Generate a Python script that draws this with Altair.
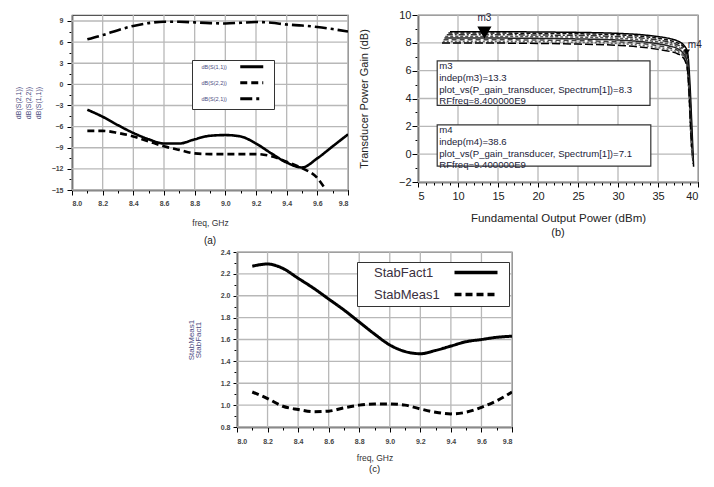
import altair as alt
import pandas as pd

FONT = "Liberation Sans"

# ---------------- Panel (a): S-parameters ----------------
A_FREQ = [8.1, 8.2, 8.3, 8.4, 8.5, 8.6, 8.7, 8.8, 8.9, 9.0, 9.1, 9.2, 9.3, 9.4, 9.5, 9.6, 9.7, 9.8]
A_S21 = [6.4, 7.0, 7.7, 8.3, 8.7, 8.9, 8.9, 8.8, 8.7, 8.65, 8.75, 8.85, 8.75, 8.5, 8.35, 8.15, 7.85, 7.5]
A_S11 = [-3.6, -4.6, -5.8, -6.9, -7.8, -8.4, -8.4, -7.8, -7.3, -7.2, -7.4, -8.4, -9.8, -11.1, -11.8, -10.5, -8.8, -7.1]
A_S22_FREQ = [8.1, 8.2, 8.3, 8.4, 8.5, 8.6, 8.7, 8.8, 8.9, 9.0, 9.1, 9.2, 9.3, 9.4, 9.5, 9.6, 9.65]
A_S22 = [-6.6, -6.6, -6.9, -7.4, -8.1, -8.8, -9.3, -9.8, -9.9, -9.9, -9.9, -9.9, -10.2, -11.0, -11.9, -13.3, -14.8]
A_SERIES = ["dB(S(1,1))", "dB(S(2,2))", "dB(S(2,1))"]
A_XTICKS = [8.0, 8.2, 8.4, 8.6, 8.8, 9.0, 9.2, 9.4, 9.6, 9.8]
A_XMINOR = [8.1, 8.3, 8.5, 8.7, 8.9, 9.1, 9.3, 9.5, 9.7]
A_YTICKS = [-15, -12, -9, -6, -3, 0, 3, 6, 9]
A_YMINOR = [-13.5, -10.5, -7.5, -4.5, -1.5, 1.5, 4.5, 7.5]

# ---------------- Panel (b): transducer power gain ----------------
B_PX = {
    "c1": [9.0, 12, 15, 20, 25, 30, 33, 35, 36.5, 37.5, 38.2, 38.7, 39.0, 39.2, 39.35, 39.45],
    "c2": [8.8, 12, 15, 20, 25, 30, 33, 35, 36.5, 37.5, 38.2, 38.6, 38.9, 39.1, 39.25, 39.4],
    "c3": [8.6, 12, 15, 20, 25, 30, 33, 35, 36.5, 37.5, 38.1, 38.5, 38.85, 39.05, 39.2, 39.35],
    "c4": [8.4, 12, 15, 20, 25, 30, 33, 35, 36.5, 37.5, 38.1, 38.5, 38.8, 39.0, 39.15, 39.3],
    "c5": [8.3, 12, 15, 20, 25, 30, 33, 35, 36.5, 37.5, 38.0, 38.45, 38.8, 39.0, 39.15, 39.3],
    "c6": [8.2, 12, 15, 20, 25, 30, 33, 35, 36.5, 37.5, 38.0, 38.4, 38.75, 38.95, 39.1, 39.25],
    "c7": [8.1, 12, 15, 20, 25, 30, 33, 35, 36.5, 37.5, 38.0, 38.4, 38.7, 38.9, 39.05, 39.2],
    "c8": [8.0, 12, 15, 20, 25, 30, 33, 35, 36.5, 37.5, 38.0, 38.35, 38.7, 38.9, 39.05, 39.2],
}
B_GAIN = {
    "c1": [8.80, 8.80, 8.80, 8.78, 8.75, 8.68, 8.58, 8.45, 8.30, 8.12, 7.85, 7.30, 5.0, 2.5, 0.5, -0.9],
    "c2": [8.70, 8.70, 8.70, 8.68, 8.65, 8.58, 8.47, 8.33, 8.17, 7.98, 7.70, 7.20, 5.2, 2.8, 0.8, -0.7],
    "c3": [8.58, 8.58, 8.58, 8.56, 8.53, 8.45, 8.34, 8.20, 8.03, 7.84, 7.58, 7.12, 5.3, 3.0, 1.0, -0.5],
    "c4": [8.46, 8.46, 8.46, 8.44, 8.41, 8.33, 8.21, 8.06, 7.89, 7.70, 7.45, 7.03, 5.5, 3.3, 1.3, -0.3],
    "c5": [8.34, 8.34, 8.34, 8.32, 8.28, 8.20, 8.08, 7.93, 7.76, 7.57, 7.35, 6.95, 5.6, 3.5, 1.5, -0.1],
    "c6": [8.22, 8.22, 8.22, 8.20, 8.16, 8.07, 7.95, 7.79, 7.62, 7.44, 7.24, 6.90, 5.7, 3.7, 1.7, 0.1],
    "c7": [8.10, 8.10, 8.10, 8.08, 8.04, 7.95, 7.82, 7.66, 7.50, 7.32, 7.12, 6.82, 5.8, 3.9, 1.9, 0.3],
    "c8": [7.98, 7.98, 7.98, 7.96, 7.91, 7.82, 7.69, 7.53, 7.38, 7.20, 7.02, 6.75, 6.0, 4.2, 2.2, 0.5],
}
B_CURVES = ["c1", "c2", "c3", "c4", "c5", "c6", "c7", "c8"]
B_COLORS = ["#000000", "#111111", "#333333", "#555555", "#222222", "#444444", "#666666", "#000000"]
B_DASHES = [[1, 0], [4, 2], [6, 2, 2, 2], [3, 2], [1, 0], [5, 3], [2, 2], [8, 3]]
B_XTICKS = [5, 10, 15, 20, 25, 30, 35, 40]
B_XMINOR = [6, 7, 8, 9, 11, 12, 13, 14, 16, 17, 18, 19, 21, 22, 23, 24, 26, 27, 28, 29,
            31, 32, 33, 34, 36, 37, 38, 39]
B_YTICKS = [-2, 0, 2, 4, 6, 8, 10]
B_YMINOR = [-1, 1, 3, 5, 7, 9]
MK_NAME = ["m3", "m4"]
MK_X = [13.3, 38.6]
MK_Y = [8.3, 7.1]
BOX_LEFT = [7.4, 7.4]
BOX_RIGHT = [34.0, 34.1]
BOX_TOP = [6.7, 2.1]
BOX_BOTTOM = [3.5, -0.86]
BOX_TEXT = [
    "m3\nindep(m3)=13.3\nplot_vs(P_gain_transducer, Spectrum[1])=8.3\nRFfreq=8.400000E9",
    "m4\nindep(m4)=38.6\nplot_vs(P_gain_transducer, Spectrum[1])=7.1\nRFfreq=9.400000E9",
]

# ---------------- Panel (c): stability ----------------
C_FREQ = [8.1, 8.2, 8.3, 8.4, 8.5, 8.6, 8.7, 8.8, 8.9, 9.0, 9.1, 9.2, 9.3, 9.4, 9.5, 9.6, 9.7, 9.8]
C_STABFACT = [2.27, 2.29, 2.25, 2.16, 2.07, 1.97, 1.87, 1.76, 1.65, 1.55, 1.49, 1.47, 1.50, 1.54, 1.58, 1.60, 1.62, 1.63]
C_STABMEAS = [1.12, 1.06, 0.99, 0.96, 0.94, 0.945, 0.975, 1.0, 1.01, 1.01, 1.0, 0.965, 0.935, 0.92, 0.935, 0.98, 1.04, 1.12]
C_SERIES = ["StabFact1", "StabMeas1"]
C_YTICKS = [0.8, 1.0, 1.2, 1.4, 1.6, 1.8, 2.0, 2.2, 2.4]
C_YMINOR = [0.9, 1.1, 1.3, 1.5, 1.7, 1.9, 2.1, 2.3]

LABEL_GRAY = "#444444"
GRID = "#b8b8b8"


def minor_layer(df, xf, yf, xs, ys, xv, yv, tsize):
    return alt.Chart(df).mark_point(opacity=0).encode(
        x=alt.X(xf, scale=xs, axis=alt.Axis(values=xv, labels=False, domain=False, grid=False,
                                           tickSize=tsize, title=None, orient="bottom")),
        y=alt.Y(yf, scale=ys, axis=alt.Axis(values=yv, labels=False, domain=False, grid=False,
                                           tickSize=tsize, title=None, orient="left")),
    )


def grid_layers(xv, yv, xs, ys):
    gx = alt.Chart(pd.DataFrame({"g": xv})).mark_rule(color=GRID, strokeWidth=1.3, opacity=1).encode(
        x=alt.X("g:Q", scale=xs, axis=None))
    gy = alt.Chart(pd.DataFrame({"g": yv})).mark_rule(color=GRID, strokeWidth=1.3, opacity=1).encode(
        y=alt.Y("g:Q", scale=ys, axis=None))
    return [gx, gy]


# ---------- build (a) ----------
rows = []
for f, v in zip(A_FREQ, A_S11):
    rows.append({"freq": f, "val": v, "series": A_SERIES[0]})
for f, v in zip(A_S22_FREQ, A_S22):
    rows.append({"freq": f, "val": v, "series": A_SERIES[1]})
for f, v in zip(A_FREQ, A_S21):
    rows.append({"freq": f, "val": v, "series": A_SERIES[2]})
dfa = pd.DataFrame(rows)

xs_a = alt.Scale(domain=[8.0, 9.8], nice=False, zero=False)
ys_a = alt.Scale(domain=[-15, 9.85], nice=False, zero=False)

lines_a = alt.Chart(dfa).mark_line(color="black", strokeWidth=2.6, interpolate="monotone", clip=True).encode(
    x=alt.X("freq:Q", scale=xs_a, axis=alt.Axis(values=A_XTICKS, format=".1f", title="freq, GHz", grid=False,
                                               labelFontSize=7, labelColor=LABEL_GRAY, labelFontWeight="bold",
                                               titleFontSize=8.5, titleColor="#333", tickSize=5,
                                               labelPadding=4, titlePadding=12, orient="bottom")),
    y=alt.Y("val:Q", scale=ys_a, axis=alt.Axis(values=A_YTICKS, format="d", grid=False,
                                              title=["dB(S(2,1))", "dB(S(2,2))", "dB(S(1,1))"],
                                              titleFontSize=7, titleLineHeight=10, titleColor="#4a4a80",
                                              labelFontSize=7, labelColor=LABEL_GRAY, labelFontWeight="bold",
                                              tickSize=5, labelPadding=4, titlePadding=10, orient="left")),
    strokeDash=alt.StrokeDash("series:N", scale=alt.Scale(domain=A_SERIES, range=[[1, 0], [7, 4], [12, 4, 3, 4]]),
                              legend=alt.Legend(title=None, orient="none", legendX=120, legendY=45,
                                                labelFontSize=5.5, labelColor="#4a4a80", symbolSize=4,
                                                symbolType="M41.5,0H64.5", symbolStrokeWidth=3,
                                                symbolStrokeColor="black", symbolFillColor="transparent",
                                                strokeColor="#333", fillColor="white", padding=4,
                                                rowPadding=3, labelOffset=0)),
    detail="series:N",
)
chart_a = alt.layer(*grid_layers(A_XTICKS, A_YTICKS, xs_a, ys_a), lines_a,
                    minor_layer(dfa, "freq:Q", "val:Q", xs_a, ys_a, A_XMINOR, A_YMINOR, 3)).resolve_axis(
    x="independent", y="independent").properties(
    width=276, height=175,
    title=alt.TitleParams("(a)", orient="bottom", fontSize=10, fontWeight="normal", offset=9, color="#222"))

# ---------- build (b) ----------
rows = []
for c in B_CURVES:
    for x, y in zip(B_PX[c], B_GAIN[c]):
        rows.append({"pout": x, "gain": y, "curve": c})
dfb = pd.DataFrame(rows)
dfbox = pd.DataFrame({"x1": BOX_LEFT, "x2": BOX_RIGHT, "y1": BOX_BOTTOM, "y2": BOX_TOP, "txt": BOX_TEXT})
dfmk = pd.DataFrame({"name": MK_NAME, "x": MK_X, "y": MK_Y})

xs_b = alt.Scale(domain=[5, 40], nice=False, zero=False)
ys_b = alt.Scale(domain=[-2, 10], nice=False, zero=False)

curves_b = alt.Chart(dfb).mark_line(strokeWidth=1.5, interpolate="monotone", clip=True).encode(
    x=alt.X("pout:Q", scale=xs_b, axis=alt.Axis(values=B_XTICKS, format="d", title="Fundamental Output Power (dBm)",
                                               grid=False,
                                               labelFontSize=11, labelColor="#222", titleFontSize=11.5,
                                               titleColor="#222", tickSize=5, labelPadding=3, titlePadding=11,
                                               orient="bottom")),
    y=alt.Y("gain:Q", scale=ys_b, axis=alt.Axis(values=B_YTICKS, format="d", title="Transducer Power Gain (dB)",
                                               grid=False,
                                               labelFontSize=11, labelColor="#222", titleFontSize=11,
                                               titleColor="#222", tickSize=6, labelPadding=1, titlePadding=29,
                                               orient="left")),
    color=alt.Color("curve:N", scale=alt.Scale(domain=B_CURVES, range=B_COLORS), legend=None),
    strokeDash=alt.StrokeDash("curve:N", scale=alt.Scale(domain=B_CURVES, range=B_DASHES), legend=None),
    detail="curve:N",
)
boxes_b = alt.Chart(dfbox).mark_rect(fill="white", stroke="#333", strokeWidth=1.2).encode(
    x=alt.X("x1:Q", scale=xs_b, axis=None), x2="x2:Q",
    y=alt.Y("y1:Q", scale=ys_b, axis=None), y2="y2:Q")
texts_b = alt.Chart(dfbox).mark_text(align="left", baseline="top", lineBreak="\n", fontSize=9.6,
                                     lineHeight=11.8, dx=2, dy=0, color="#222238").encode(
    x=alt.X("x1:Q", scale=xs_b, axis=None), y=alt.Y("y2:Q", scale=ys_b, axis=None), text="txt:N")
m3_tri = alt.Chart(dfmk).transform_filter(alt.datum.name == "m3").mark_point(
    shape="triangle-down", filled=True, size=200, color="black", opacity=1, yOffset=-6).encode(
    x=alt.X("x:Q", scale=xs_b, axis=None), y=alt.Y("y:Q", scale=ys_b, axis=None))
m3_lab = alt.Chart(dfmk).transform_filter(alt.datum.name == "m3").mark_text(
    fontSize=10, dy=-21, color="#222238").encode(
    x=alt.X("x:Q", scale=xs_b, axis=None), y=alt.Y("y:Q", scale=ys_b, axis=None), text="name:N")
m4_tri = alt.Chart(dfmk).transform_filter(alt.datum.name == "m4").mark_point(
    shape="triangle-down", filled=True, size=40, color="black", opacity=1, yOffset=-3).encode(
    x=alt.X("x:Q", scale=xs_b, axis=None), y=alt.Y("y:Q", scale=ys_b, axis=None))
m4_lab = alt.Chart(dfmk).transform_filter(alt.datum.name == "m4").mark_text(
    fontSize=10, dx=1, dy=-10, align="left", color="#222238").encode(
    x=alt.X("x:Q", scale=xs_b, axis=None), y=alt.Y("y:Q", scale=ys_b, axis=None), text="name:N")

chart_b = alt.layer(*grid_layers(B_XTICKS, B_YTICKS, xs_b, ys_b), curves_b, boxes_b, texts_b,
                    m3_tri, m3_lab, m4_tri, m4_lab,
                    minor_layer(dfb, "pout:Q", "gain:Q", xs_b, ys_b, B_XMINOR, B_YMINOR, 3)).resolve_axis(
    x="independent", y="independent").properties(
    width=280, height=167,
    title=alt.TitleParams("(b)", orient="bottom", fontSize=11, fontWeight="normal", offset=3, color="#222"))

# ---------- build (c) ----------
rows = []
for f, v in zip(C_FREQ, C_STABFACT):
    rows.append({"freq": f, "val": v, "series": C_SERIES[0]})
for f, v in zip(C_FREQ, C_STABMEAS):
    rows.append({"freq": f, "val": v, "series": C_SERIES[1]})
dfc = pd.DataFrame(rows)

xs_c = alt.Scale(domain=[8.0, 9.8], nice=False, zero=False)
ys_c = alt.Scale(domain=[0.8, 2.4], nice=False, zero=False)

lines_c = alt.Chart(dfc).mark_line(color="black", strokeWidth=3, interpolate="monotone", clip=True).encode(
    x=alt.X("freq:Q", scale=xs_c, axis=alt.Axis(values=A_XTICKS, format=".1f", title="freq, GHz",
                                               grid=False,
                                               labelFontSize=7, labelColor=LABEL_GRAY, labelFontWeight="bold",
                                               titleFontSize=8.5, titleColor="#333", tickSize=5,
                                               labelPadding=5, titlePadding=9, orient="bottom")),
    y=alt.Y("val:Q", scale=ys_c, axis=alt.Axis(values=C_YTICKS, format=".1f", title=["StabMeas1", "StabFact1"],
                                              grid=False,
                                              titleFontSize=8, titleLineHeight=7, titleColor="#4a4a80",
                                              labelFontSize=7, labelColor=LABEL_GRAY, labelFontWeight="bold",
                                              tickSize=4, labelPadding=3, titlePadding=18, orient="left")),
    strokeDash=alt.StrokeDash("series:N", scale=alt.Scale(domain=C_SERIES, range=[[1, 0], [7, 4]]),
                              legend=alt.Legend(title=None, orient="none", legendX=120, legendY=10,
                                                labelFontSize=13, labelColor="#3a3040", symbolSize=4,
                                                symbolType="M87,0H130", symbolStrokeWidth=3.5,
                                                symbolStrokeColor="black", symbolFillColor="transparent",
                                                strokeColor="#333", fillColor="white", padding=4,
                                                rowPadding=7, labelOffset=0)),
    detail="series:N",
)
chart_c = alt.layer(*grid_layers(A_XTICKS, C_YTICKS, xs_c, ys_c), lines_c,
                    minor_layer(dfc, "freq:Q", "val:Q", xs_c, ys_c, A_XMINOR, C_YMINOR, 3)).resolve_axis(
    x="independent", y="independent").properties(
    width=275, height=175,
    title=alt.TitleParams("(c)", orient="bottom", fontSize=9.5, fontWeight="normal", offset=2, color="#222"))

spacer = alt.Chart(pd.DataFrame({"v": [0]})).mark_point(opacity=0).encode(
    x=alt.X("v:Q", axis=None), y=alt.Y("v:Q", axis=None)).properties(
    width=165, height=10, view=alt.ViewBackground(stroke="transparent"))

top = alt.hconcat(chart_a, chart_b, spacing=70, bounds="flush").resolve_scale(
    strokeDash="independent", color="independent").resolve_legend(strokeDash="independent", color="independent")
bottom = alt.hconcat(spacer, chart_c, spacing=0, bounds="flush").resolve_scale(
    strokeDash="independent", color="independent").resolve_legend(strokeDash="independent", color="independent")

chart = alt.vconcat(top, bottom, spacing=0).resolve_scale(
    strokeDash="independent", color="independent").resolve_legend(
    strokeDash="independent", color="independent").properties(
    padding={"left": 5, "top": 0, "right": 0, "bottom": 0}
).configure(font=FONT).configure_view(
    stroke="#555555", strokeWidth=1.2
).configure_axis(
    domainColor="black", domainWidth=1.5, tickColor="black", tickWidth=1,
    gridColor=GRID, gridWidth=1, labelFont=FONT, titleFont=FONT, titleFontWeight="normal"
).configure_title(font=FONT).configure_legend(labelFont=FONT)

chart.save("out.html", embed_options={"renderer": "svg", "actions": False})
